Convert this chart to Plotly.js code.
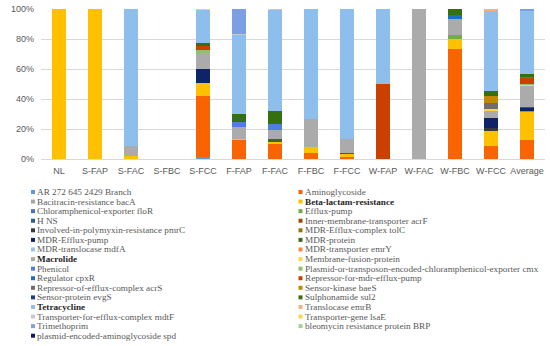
<!DOCTYPE html>
<html>
<head>
<meta charset="utf-8">
<script src="https://cdn.plot.ly/plotly-3.0.1.min.js"></script>
<style>html,body{margin:0;padding:0;background:#fff;}#chart{width:550px;height:346px;}</style>
</head>
<body>
<div id="chart"></div>
<script>
var categories = ["NL","S-FAP","S-FAC","S-FBC","S-FCC","F-FAP","F-FAC","F-FBC","F-FCC","W-FAP","W-FAC","W-FBC","W-FCC","Average"];
var yTickValues = [0,20,40,60,80,100];
var yTickLabels = ["0%","20%","40%","60%","80%","100%"];

var seriesNames = [
  "AR 272 645 2429 Branch","Aminoglycoside",
  "Bacitracin-resistance bacA","Beta-lactam-resistance",
  "Chloramphenicol-exporter floR","Efflux-pump",
  "H NS","Inner-membrane-transporter acrF",
  "Involved-in-polymyxin-resistance pmrC","MDR-Efflux-complex tolC",
  "MDR-Efflux-pump","MDR-protein",
  "MDR-translocase mdfA","MDR-transporter emrY",
  "Macrolide","Membrane-fusion-protein",
  "Phenicol","Plasmid-or-transposon-encoded-chloramphenicol-exporter cmx",
  "Regulator cpxR","Repressor-for-mdr-efflux-pump",
  "Repressor-of-efflux-complex acrS","Sensor-kinase baeS",
  "Sensor-protein evgS","Sulphonamide sul2",
  "Tetracycline","Translocase emrB",
  "Transporter-for-efflux-complex mdtF","Transporter-gene lsaE",
  "Trimethoprim","bleomycin resistance protein BRP",
  "plasmid-encoded-aminoglycoside spd"
];
var boldNames = ["Beta-lactam-resistance","Macrolide","Tetracycline"];

// values per category (NL ... Average), in percent
var arBranch        = [0,0,0,0,1.5,0,0,0,0,0,0,0,0,0.1];
var aminoglycoside  = [0,0,0,0,40,12.5,10.3,4,1.3,0,0,73.2,8.7,12.5];
var bacitracin      = [0,0,0,0,0,0,0,0,0,0,0,0,0,0];
var betaLactam      = [100,100,2.3,0,8.5,1,1.3,4,1.8,0,0,6.7,9.4,19.4];
var chloramphFloR   = [0,0,0,0,0,0,0,0,0,0,0,0,0,0];
var effluxPump      = [0,0,0,0,0,0,0,0,0,0,0,3.1,0,0.3];
var hns             = [0,0,0,0,0,0,0,0,0,0,0,0,0,0];
var innerMembrane   = [0,0,0,0,0,0,0,0,0,0,0,0,0,0];
var pmrC            = [0,0,0,0,0,0,0,0,0,0,0,0,2.2,0.2];
var tolC            = [0,0,0,0,0,0,0,0,0,0,0,0,0,0];
var mdrEffluxPump   = [0,0,0,0,9.4,0,0,0,0,0,0,0,6.3,2.2];
var mdrProtein      = [0,0,0,0,0,0,2.0,0,1.0,0,0,0,0,0.3];
var mdfA            = [0,0,0,0,0,0,0,0,0,0,0,0,0,0];
var emrY            = [0,0,0,0,0,0,0,0,0,0,0,0,0,0];
var macrolide       = [0,0,6.2,0,11,8,6,18.4,9.2,0,100,10.5,5.1,14.7];
var membraneFusion  = [0,0,0,0,0,0,0,0,0,0,0,0,1.1,0.1];
var phenicol        = [0,0,0,0,0,3.4,3.6,0,0,0,0,0,0,0.6];
var cmx             = [0,0,0,0,1.7,0,0,0,0,0,0,0,0,0.2];
var cpxR            = [0,0,0,0,0,0,0,0,0,0,0,2.7,0,0.2];
var repressorMdr    = [0,0,0,0,2.7,0,0,0,0,49.8,0,0,0,4.0];
var acrS            = [0,0,0,0,0,0,0,0,0,0,0,0,3.8,0.4];
var baeS            = [0,0,0,0,0,0,0,0,0,0,0,0,4.5,0.4];
var evgS            = [0,0,0,0,0,0,0,0,0,0,0,0,0,0];
var sul2            = [0,0,0,0,2.2,5,8.7,0,0,0,0,3.8,3.5,2.2];
var tetracycline    = [0,0,91.5,0,21.8,53,68,73.6,86.7,50,0,0,52.5,42.2];
var emrB            = [0,0,0,0,0,0,0,0,0,0,0,0,1.3,0.1];
var mdtF            = [0,0,0,0,0,0.5,0.7,0,0,0,0,0,0,0.1];
var lsaE            = [0,0,0,0,0.5,0,0,0,0,0,0,0,0,0];
var trimethoprim    = [0,0,0,0,0,16.7,0,0,0,0,0,0,0,1.3];
var bleomycin       = [0,0,0,0,0,0,0,0,0,0,0,0,0,0];
var spd             = [0,0,0,0,0,0,0,0,0,0,0,0,0,0];

var seriesValues = [arBranch,aminoglycoside,bacitracin,betaLactam,chloramphFloR,effluxPump,
  hns,innerMembrane,pmrC,tolC,mdrEffluxPump,mdrProtein,mdfA,emrY,macrolide,membraneFusion,
  phenicol,cmx,cpxR,repressorMdr,acrS,baeS,evgS,sul2,tetracycline,emrB,mdtF,lsaE,
  trimethoprim,bleomycin,spd];

var seriesColors = ["#5B9BD5","#FA6400","#A5A5A5","#FFC000","#4472C4","#70AD47",
  "#255E91","#9E480E","#3A3A3A","#997300","#0E2466","#3F6A1E",
  "#9DC3E6","#F28A45","#ABABAB","#FFD54F","#4F7FD8","#8DC26B",
  "#1E6FC0","#C94000","#6E6E6E","#C08A00","#213E8C","#35700F",
  "#8DBEEC","#F4B183","#C9C9C9","#FFD34D","#7C9FE3","#A9D18E","#0A1E5A"];

var traces = seriesNames.map(function(name, i){
  return {
    type: 'bar', name: name, x: categories, y: seriesValues[i],
    marker: {color: seriesColors[i], line: {width: 0}},
    showlegend: false, hoverinfo: 'x+y+name'
  };
});

// plot area geometry (pixels)
var L = 41, R = 5, T = 9, B = 187, W = 550, H = 346;
var pw = W - L - R, ph = H - T - B;
function px2x(px){ return (px - L) / pw; }
function py2y(py){ return (H - B - py) / ph; }

var annotations = [], shapes = [];
seriesNames.forEach(function(name, i){
  var col = i % 2, row = Math.floor(i / 2);
  var cy = 192 + 9.58 * row;
  var tx = col === 0 ? 35.5 : 303.5;
  var sx = col === 0 ? 33 : 300.5;
  var bold = boldNames.indexOf(name) >= 0;
  annotations.push({
    xref: 'paper', yref: 'paper', x: px2x(tx), y: py2y(cy),
    xanchor: 'left', yanchor: 'middle', showarrow: false,
    text: bold ? '<b>' + name + '</b>' : name,
    font: {family: 'Liberation Serif, Times New Roman, serif', size: 9.2, color: bold ? '#262626' : '#595959'},
    borderpad: 0
  });
  shapes.push({
    type: 'rect', xref: 'paper', yref: 'paper',
    x0: px2x(sx - 2), x1: px2x(sx + 2), y0: py2y(cy + 2), y1: py2y(cy - 2),
    fillcolor: seriesColors[i], line: {width: 0}
  });
});

var layout = {
  width: W, height: H,
  margin: {l: L, r: R, t: T, b: B, pad: 0},
  paper_bgcolor: '#ffffff', plot_bgcolor: '#ffffff',
  barmode: 'stack', barnorm: 'percent', bargap: 0.61,
  showlegend: false,
  font: {family: 'Liberation Sans, Arial, sans-serif', size: 9, color: '#595959'},
  xaxis: {
    type: 'category', showgrid: false, zeroline: false,
    showline: true, linecolor: '#D9D9D9', linewidth: 1,
    ticks: '', tickfont: {size: 9, color: '#595959'}, ticklabelstandoff: 3
  },
  yaxis: {
    range: [0, 100], tickmode: 'array', tickvals: yTickValues, ticktext: yTickLabels,
    showgrid: true, gridcolor: '#D9D9D9', gridwidth: 1, zeroline: false,
    showline: false, ticks: '', tickfont: {size: 9, color: '#595959'}, ticklabelstandoff: 6
  },
  annotations: annotations,
  shapes: shapes
};

Plotly.newPlot('chart', traces, layout, {displayModeBar: false, staticPlot: true});
</script>
</body>
</html>
